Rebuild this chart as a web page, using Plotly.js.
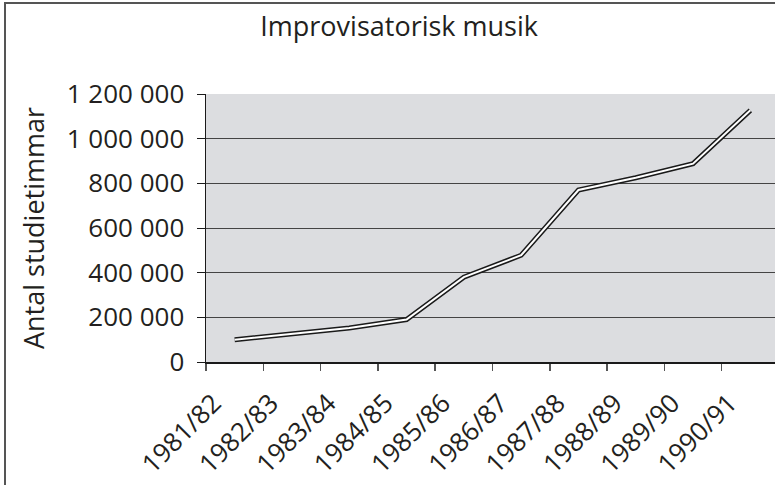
<!DOCTYPE html>
<html>
<head>
<meta charset="utf-8">
<script src="https://cdn.plot.ly/plotly-3.0.1.min.js"></script>
<style>
  html, body { margin: 0; padding: 0; background: #fff; }
  #wrap { position: relative; width: 775px; height: 485px; overflow: hidden; }
  #chart { width: 775px; height: 485px; }
  #bl { position: absolute; left: 4px; top: 2px; width: 2px; height: 483px; background: #555; }
  #bt { position: absolute; left: 4px; top: 2px; width: 771px; height: 2px; background: #555; }
</style>
</head>
<body>
<div id="wrap">
  <div id="chart"></div>
  <div id="bl"></div>
  <div id="bt"></div>
</div>
<script>
const categories = ["1981/82","1982/83","1983/84","1984/85","1985/86","1986/87","1987/88","1988/89","1989/90","1990/91"];
const studyHours = [100000, 125000, 152000, 190000, 380000, 478000, 770000, 825000, 888000, 1127000];
const chartTitle = "Improvisatorisk musik";
const yTitle = "Antal studietimmar";

const font = "'Open Sans', 'Noto Sans', sans-serif";

const traces = [
  { x: categories, y: studyHours, type: "scatter", mode: "lines",
    line: { color: "#1a1a1a", width: 5 }, hoverinfo: "skip", showlegend: false },
  { x: categories, y: studyHours, type: "scatter", mode: "lines",
    line: { color: "#ffffff", width: 2 }, showlegend: false }
];

const layout = {
  width: 775, height: 485,
  margin: { l: 206, r: 0, t: 94, b: 123 },
  paper_bgcolor: "#ffffff",
  plot_bgcolor: "#dcdde0",
  separators: ", ",
  font: { family: font, color: "#231f20", size: 26 },
  title: { text: chartTitle, font: { family: font, size: 27, color: "#231f20" },
           xref: "container", x: 0.515, xanchor: "center", yref: "container", y: 0.965, yanchor: "top" },
  xaxis: {
    type: "category",
    range: [-0.5, 9.43],
    tickson: "boundaries",
    ticks: "outside", ticklen: 7, tickcolor: "#555", tickwidth: 1.5,
    tickangle: -45,
    ticklabelshift: -21,
    ticklabelstandoff: 14,
    tickfont: { family: font, size: 26, color: "#231f20" },
    showgrid: false,
    showline: true, linecolor: "#1a1a1a", linewidth: 1.5,
    zeroline: false
  },
  yaxis: {
    range: [0, 1200000],
    dtick: 200000,
    tickformat: ",d",
    ticks: "outside", ticklen: 8, tickcolor: "#1a1a1a", tickwidth: 1,
    ticklabelstandoff: 7,
    tickfont: { family: font, size: 26, color: "#231f20" },
    showgrid: true, gridcolor: "#444", gridwidth: 1,
    showline: true, linecolor: "#1a1a1a", linewidth: 1.5,
    zeroline: false,
    title: { text: yTitle, font: { family: font, size: 27, color: "#231f20" }, standoff: 14 }
  }
};

Plotly.newPlot("chart", traces, layout, { displayModeBar: false, staticPlot: true });
</script>
</body>
</html>
